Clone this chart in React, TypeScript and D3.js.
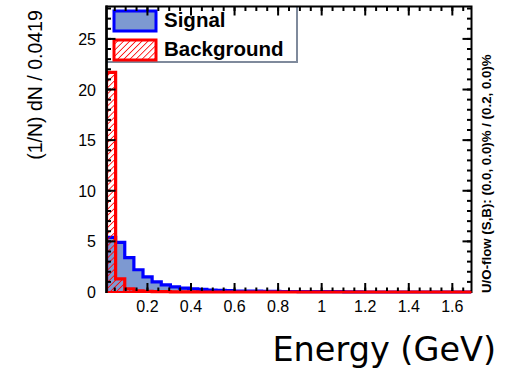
import React from 'react';
import * as d3 from 'd3';

const binWidth = 0.0419;
const xMin = 0.012;
const signal = [5.4, 4.9, 3.4, 2.2, 1.5, 1.0, 0.7, 0.5, 0.38, 0.3, 0.25, 0.2, 0.16, 0.13, 0.1, 0.09, 0.08, 0.07, 0.06, 0.05, 0.05, 0.04, 0.04, 0.03, 0.03, 0.03, 0.02, 0.02, 0, 0, 0, 0, 0, 0, 0, 0, 0, 0, 0, 0];
const background = [21.7, 1.3, 0.3, 0.12, 0.06, 0.04, 0.03, 0.02, 0.01, 0.01, 0, 0, 0, 0, 0, 0, 0, 0, 0, 0, 0, 0, 0, 0, 0, 0, 0, 0, 0, 0, 0, 0, 0, 0, 0, 0, 0, 0, 0, 0];
const xTickLabels = ['0.2', '0.4', '0.6', '0.8', '1', '1.2', '1.4', '1.6'];
const xTickValues = [0.2, 0.4, 0.6, 0.8, 1.0, 1.2, 1.4, 1.6];
const yTickValues = [0, 5, 10, 15, 20, 25];
const yMax = 28.2;
const legendLabels = ['Signal', 'Background'];
const yTitle = '(1/N) dN / 0.0419';
const xTitle = 'Energy (GeV)';
const flowText = 'U/O-flow (S,B): (0.0, 0.0)% / (0.2, 0.0)%';

const FONT = '"Liberation Sans", Arial, Helvetica, sans-serif';

export default function App() {
  const W = 510, H = 375;
  const L = 106.5, R = 471.5, T = 6.5, B = 292;
  const xMax = xMin + binWidth * signal.length;
  const x = d3.scaleLinear().domain([xMin, xMax]).range([L, R]);
  const y = d3.scaleLinear().domain([0, yMax]).range([B, T]);

  const histPts = (vals: number[]) => {
    const pts: [number, number][] = [[xMin, 0]];
    vals.forEach((v, i) => {
      pts.push([xMin + i * binWidth, v]);
      pts.push([xMin + (i + 1) * binWidth, v]);
    });
    pts.push([xMax, 0]);
    return pts;
  };
  const line = d3.line<[number, number]>().x(d => x(d[0])).y(d => y(d[1]));
  const sigPath = line(histPts(signal)) || '';
  const bkgPath = line(histPts(background)) || '';

  const xMinor = d3.range(1, 40).map(i => i * 0.05).filter(v => v > xMin && v < xMax);
  const yMinor = d3.range(1, 29).filter(v => v < yMax);

  const majLen = 9, minLen = 4.5;

  return (
    <div style={{ position: 'fixed', left: 0, top: 0 }}>
      <svg width={W} height={H} style={{ display: 'block', background: '#fff' }}>
        <defs>
          <pattern id="hatch" patternUnits="userSpaceOnUse" width={4.3} height={4.3} patternTransform="rotate(45)">
            <line x1={0} y1={0} x2={0} y2={4.3} stroke="#ff0000" strokeWidth={1.6} />
          </pattern>
          <clipPath id="plotclip">
            <rect x={L} y={T} width={R - L} height={B - T + 2} />
          </clipPath>
        </defs>

        {/* histograms */}
        <g clipPath="url(#plotclip)">
          <path d={sigPath} fill="#7d99d1" stroke="none" />
          <path d={sigPath} fill="none" stroke="#0000ff" strokeWidth={3.2} strokeLinejoin="miter" />
          <path d={bkgPath} fill="url(#hatch)" stroke="none" />
          <path d={bkgPath} fill="none" stroke="#ff0000" strokeWidth={3.2} strokeLinejoin="miter" />
        </g>

        {/* legend */}
        <g>
          <line x1={297} y1={6} x2={297} y2={63} stroke="#7f8a9c" strokeWidth={2} />
          <line x1={106} y1={62} x2={298} y2={62} stroke="#7f8a9c" strokeWidth={2} />
          <rect x={114} y={11} width={42} height={20} fill="#7d99d1" stroke="#0000ff" strokeWidth={3} />
          <rect x={114} y={40} width={42} height={20} fill="url(#hatch)" stroke="#ff0000" strokeWidth={3} />
          <text x={164} y={27} fontFamily={FONT} fontWeight="bold" fontSize={20.5} fill="#000">{legendLabels[0]}</text>
          <text x={164} y={56} fontFamily={FONT} fontWeight="bold" fontSize={20.5} fill="#000">{legendLabels[1]}</text>
        </g>

        {/* axes frame and ticks */}
        <g stroke="#000" strokeWidth={2}>
          {xTickValues.map(v => (
            <g key={'xm' + v}>
              <line x1={x(v)} x2={x(v)} y1={B} y2={B - majLen} />
              <line x1={x(v)} x2={x(v)} y1={T} y2={T + majLen} />
            </g>
          ))}
          {xMinor.map(v => (
            <g key={'xn' + v}>
              <line x1={x(v)} x2={x(v)} y1={B} y2={B - minLen} />
              <line x1={x(v)} x2={x(v)} y1={T} y2={T + minLen} />
            </g>
          ))}
          {yTickValues.map(v => (
            <g key={'ym' + v}>
              <line x1={L} x2={L + majLen} y1={y(v)} y2={y(v)} />
              <line x1={R} x2={R - majLen} y1={y(v)} y2={y(v)} />
            </g>
          ))}
          {yMinor.map(v => (
            <g key={'yn' + v}>
              <line x1={L} x2={L + minLen} y1={y(v)} y2={y(v)} />
              <line x1={R} x2={R - minLen} y1={y(v)} y2={y(v)} />
            </g>
          ))}
          <rect x={L} y={T} width={R - L} height={B - T} fill="none" />
        </g>
        <line x1={L} x2={R} y1={B} y2={B} stroke="#ff0000" strokeWidth={2} />
        <line x1={L} x2={L} y1={T - 1} y2={B + 1} stroke="#000" strokeWidth={2.5} />

        {/* tick labels */}
        {xTickValues.map((v, i) => (
          <text key={'xl' + v} x={x(v)} y={312} textAnchor="middle" fontFamily={FONT} fontSize={16} fill="#000">{xTickLabels[i]}</text>
        ))}
        {yTickValues.map(v => (
          <text key={'yl' + v} x={96} y={y(v) + 6} textAnchor="end" fontFamily={FONT} fontSize={16} fill="#000">{String(v)}</text>
        ))}

        {/* titles */}
        <text transform="translate(42,85) rotate(-90)" textAnchor="middle" fontFamily={FONT} fontSize={19.5} fill="#000">{yTitle}</text>
        <text x={496} y={361} textAnchor="end" fontFamily={'"DejaVu Sans", sans-serif'} fontSize={33.5} fill="#000">{xTitle}</text>
        <text transform="translate(491,293) rotate(-90)" textAnchor="start" fontFamily={FONT} fontWeight="bold" fontSize={13.3} fill="#000">{flowText}</text>
      </svg>
    </div>
  );
}
